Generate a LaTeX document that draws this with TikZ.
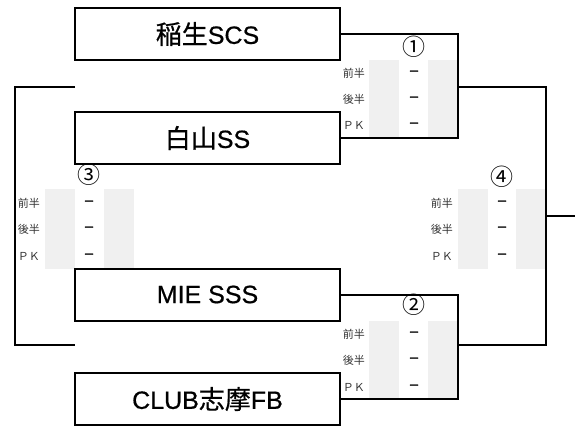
\documentclass[tikz,border=0pt]{standalone}
\usepackage{fontspec}
\setmainfont{Liberation Sans}
\newfontfamily\teamfont[FakeBold=0.6]{Liberation Sans}
\newfontfamily\jpfont{Noto Sans CJK JP}
\newfontfamily\jpteam[FakeBold=0.6]{Noto Sans CJK JP}
\newfontfamily\jpdash[FakeBold=1.2]{Noto Sans CJK JP}
\newcommand{\cj}[1]{{\jpteam\fontsize{26}{26}\selectfont #1}}
\definecolor{cellgray}{HTML}{F0F0F0}
\definecolor{labgray}{HTML}{333333}
\begin{document}
\begin{tikzpicture}[x=1pt,y=-1pt,
  team/.style={draw,line width=2pt,minimum width=265pt,minimum height=52pt,inner sep=0pt,font=\teamfont\fontsize{25}{25}\selectfont},
  link/.style={line width=2pt},
  cell/.style={fill=cellgray,draw=none},
  lab/.style={anchor=east,inner sep=0pt,text=labgray,font=\jpfont\fontsize{11}{11}\selectfont},
  dsh/.style={inner sep=0pt,font=\jpdash\fontsize{11}{11}\selectfont},
  num/.style={inner sep=0pt,font=\jpfont\fontsize{23}{23}\selectfont}]
\useasboundingbox (0,0) rectangle (585,426);
% score cells
\fill[cell] (369,60) rectangle (399,137);
\fill[cell] (428,60) rectangle (457,137);
\fill[cell] (369,321) rectangle (399,398);
\fill[cell] (428,321) rectangle (457,398);
\fill[cell] (458,189) rectangle (488,269);
\fill[cell] (516,189) rectangle (545,269);
\fill[cell] (45,189) rectangle (75,269);
\fill[cell] (104,189) rectangle (134,269);
% teams
\node[team] (t1) at (207.5,34) {\cj{稲生}SCS};
\node[team] (t2) at (207.5,138) {\cj{白山}SS};
\node[team] (t3) at (207.5,294.5) {MIE SSS};
\node[team] (t4) at (207.5,399) {CLUB\cj{志摩}FB};
% brackets
\coordinate (m1) at (458,87);
\coordinate (m2) at (458,345);
\coordinate (fin) at (546,216);
\coordinate (fout) at (575,216);
\coordinate (l1) at (75,87);
\coordinate (l2) at (75,345);
\coordinate (lx) at (15,216);
\draw[link] (t1.east) -| (m1) |- (t2.east);
\draw[link] (t3.east) -| (m2) |- (t4.east);
\draw[link] (m1) -| (fin) |- (m2);
\draw[link] (fin) -- (fout);
\draw[link] (l1) -| (lx) |- (l2);
% match 1
\node[num] (n1) at (414,47) {①};
\node[lab] (a1) at (365,73) {前半};
\node[lab] (b1) at (365,99) {後半};
\node[lab] (c1) at (365,125) {ＰＫ};
\node[dsh] (d1a) at (414,73) {－};
\node[dsh] (d1b) at (414,99) {－};
\node[dsh] (d1c) at (414,125) {－};
% match 2
\node[num] (n2) at (414,305) {②};
\node[lab] (a2) at (365,334) {前半};
\node[lab] (b2) at (365,360) {後半};
\node[lab] (c2) at (365,387) {ＰＫ};
\node[dsh] (d2a) at (414,334) {－};
\node[dsh] (d2b) at (414,360) {－};
\node[dsh] (d2c) at (414,387) {－};
% match 4
\node[num] (n4) at (502,177) {④};
\node[lab] (a4) at (453,203) {前半};
\node[lab] (b4) at (453,229) {後半};
\node[lab] (c4) at (453,256) {ＰＫ};
\node[dsh] (d4a) at (502,203) {－};
\node[dsh] (d4b) at (502,229) {－};
\node[dsh] (d4c) at (502,256) {－};
% match 3
\node[num] (n3) at (89,175) {③};
\node[lab] (a3) at (40,203) {前半};
\node[lab] (b3) at (40,229) {後半};
\node[lab] (c3) at (40,256) {ＰＫ};
\node[dsh] (d3a) at (89,203) {－};
\node[dsh] (d3b) at (89,229) {－};
\node[dsh] (d3c) at (89,256) {－};
\end{tikzpicture}
\end{document}
